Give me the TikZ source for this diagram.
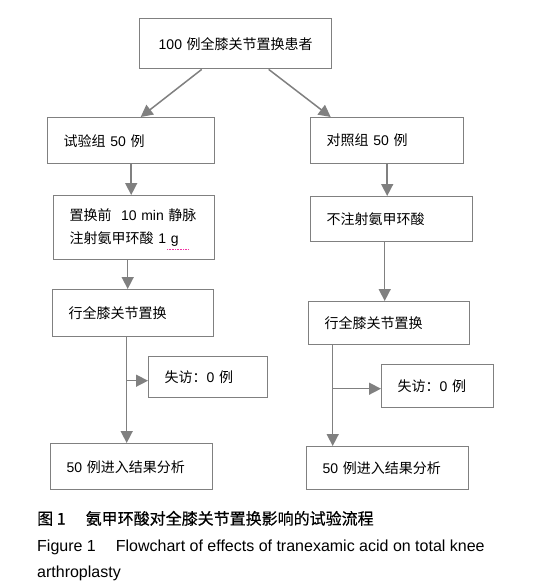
\documentclass[tikz,border=0pt]{standalone}
\usepackage{fontspec}
\usepackage{tikz}
\usetikzlibrary{arrows.meta,positioning}
\setmainfont{Liberation Sans}
\newfontfamily\cjk{Noto Sans CJK SC}
\newfontfamily\cjkbold[FakeBold=0.5]{Noto Sans CJK SC}
\newcommand\zh[1]{{\cjk #1}}
\definecolor{linegray}{RGB}{128,128,128}

\begin{document}
\begin{tikzpicture}[
    x=1pt, y=-1pt,
    box/.style={draw=linegray, line width=1.4pt, anchor=north west, inner xsep=16pt, inner ysep=0pt,
                align=left, font=\fontsize{14}{23}\selectfont},
    flow/.style={draw=linegray, line width=1.5pt, -{Triangle[length=12pt,width=12pt]}},
    caption/.style={anchor=base west, inner sep=0pt, font=\fontsize{16}{20}\selectfont}
]
\useasboundingbox[fill=white] (0,0) rectangle (542,586);

\node[box, align=center, text width=160pt, minimum height=50pt] (all_pts) at (139,18) {100 \zh{例全膝关节置换患者}};

\node[box, text width=135pt, minimum height=46pt] (trial_grp) at (47,117) {\zh{试验组} 50 \zh{例}};
\node[box, text width=121pt, minimum height=46pt] (ctrl_grp) at (310,117) {\zh{对照组} 50 \zh{例}};

\node[box, text width=129pt, minimum height=64pt] (trial_inj) at (53,195) {\zh{置换前}\ \ 10\ min \zh{静脉}\\\zh{注射氨甲环酸} 1 g};
\node[box, text width=130pt, minimum height=45pt] (ctrl_inj) at (310,196) {\zh{不注射氨甲环酸}};

\node[box, text width=129pt, minimum height=47pt] (trial_tka) at (52,289) {\zh{行全膝关节置换}};
\node[box, text width=129pt, minimum height=43pt] (ctrl_tka) at (308,301) {\zh{行全膝关节置换}};

\node[box, text width=87pt, minimum height=41pt] (trial_lost) at (148,356) {\zh{失访：}0 \zh{例}};
\node[box, text width=80pt, minimum height=43pt] (ctrl_lost) at (381,364) {\zh{失访：}0 \zh{例}};

\node[box, text width=130pt, minimum height=46pt] (trial_res) at (50,443) {50 \zh{例进入结果分析}};
\node[box, text width=130pt, minimum height=43pt] (ctrl_res) at (306,446) {50 \zh{例进入结果分析}};

% spell-check mark under 1 g
\draw[magenta!80, densely dotted, line width=0.6pt] ([shift={(114,-11)}]trial_inj.south west) -- ++(21,0);

\coordinate (trial_split) at ([xshift=-6.5pt]trial_tka.south);
\coordinate (ctrl_split) at ([xshift=-56.5pt]ctrl_tka.south);
\coordinate (trial_lost_in) at ([yshift=-3.5pt]trial_lost.west);
\coordinate (ctrl_lost_in) at ([yshift=-2.5pt]ctrl_lost.west);

\draw[flow] ([xshift=-34pt]all_pts.south) -- ([xshift=9.5pt]trial_grp.north);
\draw[flow] ([xshift=33pt]all_pts.south) -- ([xshift=-56.5pt]ctrl_grp.north);
\draw[flow] (trial_grp.south) -- (trial_grp.south |- trial_inj.north);
\draw[flow] (ctrl_grp.south) -- (ctrl_grp.south |- ctrl_inj.north);
\draw[flow] ([xshift=-6.5pt]trial_inj.south) -- ([xshift=-6.5pt]trial_inj.south |- trial_tka.north);
\draw[flow] ([xshift=-7pt]ctrl_inj.south) -- ([xshift=-7pt]ctrl_inj.south |- ctrl_tka.north);
\draw[flow] (trial_split) -- (trial_split |- trial_res.north);
\draw[flow] (ctrl_split) -- (ctrl_split |- ctrl_res.north);
\draw[flow] (trial_split |- trial_lost_in) -- (trial_lost_in);
\draw[flow] (ctrl_split |- ctrl_lost_in) -- (ctrl_lost_in);

\node[caption] (cap_zh) at (37,524.5) {\cjkbold 图 1\hspace{20pt}氨甲环酸对全膝关节置换影响的试验流程};
\node[caption] (cap_en) at (37,551) {Figure 1\hspace{20pt}Flowchart of effects of tranexamic acid on total knee};
\node[caption] (cap_en2) at (37,577) {arthroplasty};

\end{tikzpicture}
\end{document}
